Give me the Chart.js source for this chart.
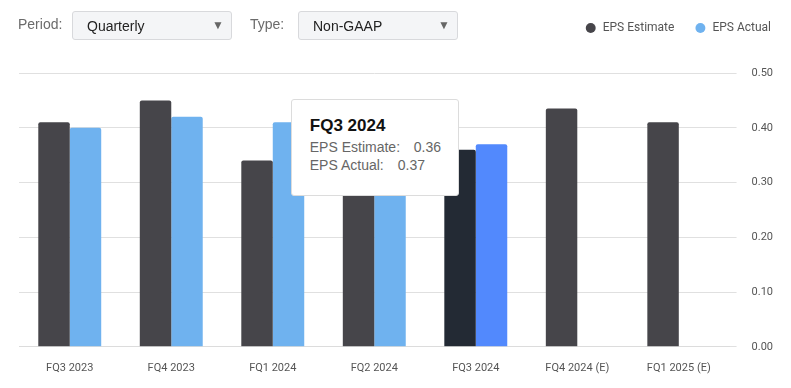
<!DOCTYPE html>
<html>
<head>
<meta charset="utf-8">
<script src="https://cdn.jsdelivr.net/npm/chart.js@4.4.0/dist/chart.umd.min.js"></script>
<style>
    html, body { margin: 0; padding: 0; background: #fff; }
    body { width: 791px; height: 388px; position: relative; overflow: hidden; font-family: "Liberation Sans", Roboto, sans-serif; }
    #wrap { position: absolute; left: 0; top: 0; width: 791px; height: 388px; }
    .lbl { position: absolute; top: 16px; font-size: 14px; color: #6b6b6b; }
    .sel { position: absolute; top: 11px; width: 158px; height: 27px; background: #f4f5f7; border: 1px solid #d8d9dc; border-radius: 3px; font-size: 14px; color: #222; }
    .sel span { position: absolute; left: 14px; top: 6px; }
    .sel i { position: absolute; right: 7px; top: 6px; font-style: normal; font-size: 12px; color: #666; }
    #tip { position: absolute; display: none; background: #fff; border: 1px solid #dcdcdc; border-radius: 3px; box-sizing: border-box; width: 168px; height: 97px; padding: 16px 0 0 18px; }
    #tip .t { font-size: 17px; font-weight: bold; color: #111; margin-bottom: 2px; }
    #tip .r { font-size: 14px; color: #666; line-height: 18px; }
    #tip .r b { font-weight: normal; display: inline-block; }
</style>
</head>
<body>
<div id="wrap"><canvas id="epsChart" width="791" height="388"></canvas></div>
<div class="lbl" style="left:18px">Period:</div>
<div class="sel" style="left:72px"><span>Quarterly</span><i>&#9660;</i></div>
<div class="lbl" style="left:250px">Type:</div>
<div class="sel" style="left:298px"><span>Non-GAAP</span><i>&#9660;</i></div>
<div id="tip"></div>
<script>
// EPS 분기 차트
var quarters = ['FQ3 2023', 'FQ4 2023', 'FQ1 2024', 'FQ2 2024', 'FQ3 2024', 'FQ4 2024 (E)', 'FQ1 2025 (E)'];
var epsEstimate = [0.41, 0.45, 0.34, 0.33, 0.36, 0.435, 0.41];
var epsActual = [0.40, 0.42, 0.41, 0.34, 0.37, null, null];
var yTicks = [0, 0.1, 0.2, 0.3, 0.4, 0.5];
var activeIndex = 4;

var epsChart;

function externalTip(context) {
    var tip = document.getElementById('tip');
    var tooltip = context.tooltip;
    if (tooltip.opacity === 0) {
        tip.style.display = 'none';
        return;
    }
    var idx = tooltip.dataPoints[0].dataIndex;
    var html = '<div class="t">' + quarters[idx] + '</div>';
    html += '<div class="r"><b style="width:104px">EPS Estimate:</b>' + epsEstimate[idx].toFixed(2) + '</div>';
    html += '<div class="r"><b style="width:88px">EPS Actual:</b>' + epsActual[idx].toFixed(2) + '</div>';
    tip.innerHTML = html;
    var cx = context.chart.scales.x.getPixelForValue(idx);
    tip.style.left = (cx - 185) + 'px';
    tip.style.top = '99px';
    tip.style.display = 'block';
}

// 범례 아래 여백
var legendSpace = {
    id: 'legendSpace',
    beforeInit: function(chart) {
        var fit = chart.legend.fit;
        chart.legend.fit = function() {
            fit.bind(chart.legend)();
            this.height += 29;
        };
    }
};

document.addEventListener("DOMContentLoaded", function() {
    var ctx = document.getElementById('epsChart').getContext('2d');
    epsChart = new Chart(ctx, {
        type: 'bar',
        data: {
            labels: quarters,
            datasets: [
                {
                    label: 'EPS Estimate',
                    data: epsEstimate,
                    backgroundColor: '#46454a',
                    hoverBackgroundColor: '#232a34',
                    borderRadius: { topLeft: 2, topRight: 2 },
                    borderSkipped: 'bottom',
                    categoryPercentage: 0.62,
                    barPercentage: 1.0
                },
                {
                    label: 'EPS Actual',
                    data: epsActual,
                    backgroundColor: '#6fb2ef',
                    hoverBackgroundColor: '#5289fd',
                    borderRadius: { topLeft: 2, topRight: 2 },
                    borderSkipped: 'bottom',
                    categoryPercentage: 0.62,
                    barPercentage: 1.0
                }
            ]
        },
        options: {
            responsive: false,
            animation: false,
            events: [],
            layout: { padding: { left: 19, right: 0, top: 2, bottom: 6 } },
            plugins: {
                legend: {
                    position: 'top',
                    align: 'end',
                    labels: {
                        usePointStyle: true,
                        pointStyle: 'circle',
                        boxWidth: 12,
                        boxHeight: 7,
                        padding: 20,
                        color: '#555',
                        font: { family: 'Roboto', size: 12 }
                    }
                },
                tooltip: {
                    enabled: false,
                    mode: 'index',
                    external: externalTip
                }
            },
            scales: {
                x: {
                    grid: { display: false },
                    border: { color: '#dcdcdc', width: 1 },
                    ticks: { color: '#555', padding: 7, font: { family: 'Roboto', size: 11 }, maxRotation: 0 }
                },
                y: {
                    position: 'right',
                    min: 0,
                    max: 0.5,
                    afterBuildTicks: function(axis) {
                        axis.ticks = yTicks.map(function(v) { return { value: v }; });
                    },
                    afterFit: function(axis) {
                        axis.width += 3;
                    },
                    grid: { color: '#e0e0e0', tickLength: 7 },
                    border: { display: false },
                    ticks: {
                        color: '#555',
                        padding: 15,
                        font: { family: 'Roboto', size: 11 },
                        callback: function(v) { return Number(v).toFixed(2); }
                    }
                }
            }
        },
        plugins: [legendSpace]
    });

    var act = [{ datasetIndex: 0, index: activeIndex }, { datasetIndex: 1, index: activeIndex }];
    epsChart.setActiveElements(act);
    epsChart.tooltip.setActiveElements(act, { x: 0, y: 0 });
    epsChart.update('none');
});
</script>
</body>
</html>
